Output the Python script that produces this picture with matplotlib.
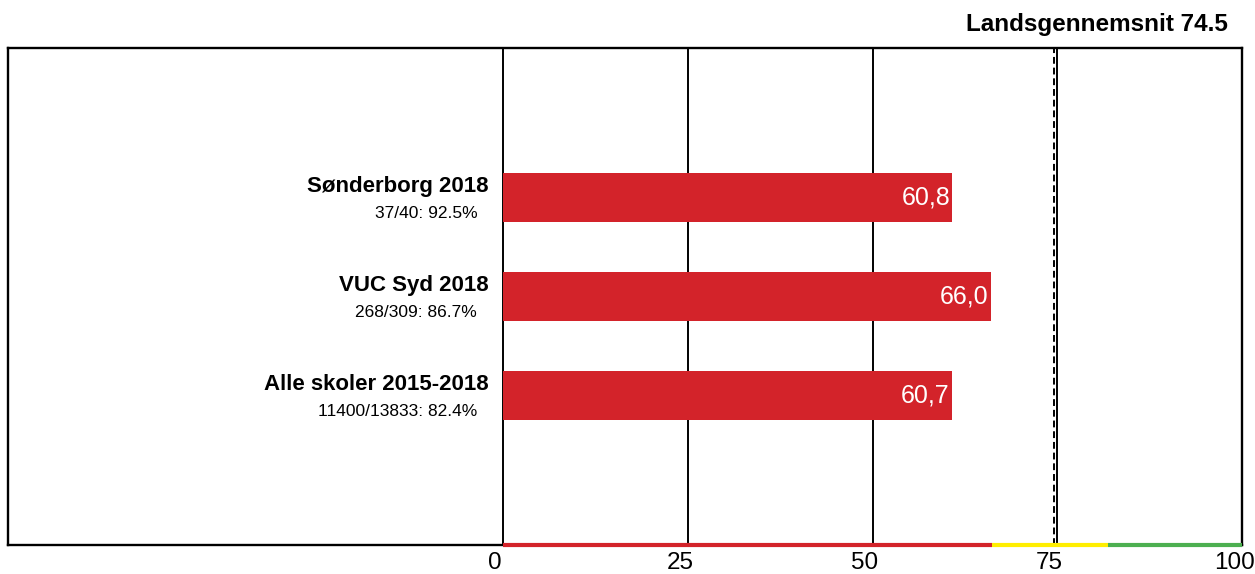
import matplotlib
matplotlib.use("Agg")
import matplotlib.pyplot as plt
import matplotlib.transforms as mtransforms

plt.rcParams['font.family'] = ['Liberation Sans', 'DejaVu Sans']

# Data
categories = ["Sønderborg 2018", "VUC Syd 2018", "Alle skoler 2015-2018"]
subtitles = ["37/40: 92.5%", "268/309: 86.7%", "11400/13833: 82.4%"]
values = [60.8, 66.0, 60.7]
value_labels = ["60,8", "66,0", "60,7"]
national_avg = 74.5
title_text = "Landsgennemsnit 74.5"
xticks = [0, 25, 50, 75, 100]
gridlines = [0, 25, 50, 75]
# Colour band on the bottom axis: (start, end, colour)
band_edges = [0, 66.2, 81.8, 100]
band_colors = ["#D3232A", "#FFEE00", "#4CAF50"]

W, H = 1255, 574
fig = plt.figure(figsize=(W / 100, H / 100), dpi=100)
ax = fig.add_axes([8 / W, (H - 545) / H, (1242 - 8) / W, (545 - 48) / H])

ax.set_xlim(-67, 100)
ax.set_ylim(3.51, -1.51)

# grid lines
for g in gridlines:
    ax.axvline(g, color="black", lw=1.4, zorder=1)
ax.axvline(national_avg, color="black", lw=1.4, ls=(0, (3.5, 2)), zorder=1)

ypos = list(range(len(categories)))
ax.barh(ypos, values, height=0.5, color="#D3232A", zorder=2)

for y, v, lab in zip(ypos, values, value_labels):
    ax.annotate(lab, xy=(v, y), xytext=(-1.5, 0), textcoords="offset points",
                ha="right", va="center", color="white", fontsize=18, zorder=3)

for y, cat, sub in zip(ypos, categories, subtitles):
    ax.text(-2.0, y - 0.11, cat, ha="right", va="center",
            fontsize=16, fontweight="bold", color="black")
    ax.text(-3.5, y + 0.165, sub, ha="right", va="center",
            fontsize=12.5, color="black")

# spines
for s in ax.spines.values():
    s.set_linewidth(1.7)
    s.set_color("black")

# colour band on the bottom spine
trans = mtransforms.blended_transform_factory(ax.transData, ax.transAxes)
for x0, x1, c in zip(band_edges[:-1], band_edges[1:], band_colors):
    ax.plot([x0, x1], [0, 0], color=c, lw=3, transform=trans,
            clip_on=False, zorder=5, solid_capstyle="butt")

ax.set_yticks([])
ax.set_xticks(xticks)
ax.set_xticklabels([str(t) for t in xticks], fontsize=17.5)
ax.tick_params(axis="x", length=0, pad=5)
offset = mtransforms.ScaledTranslation(-8 / 100, 0, fig.dpi_scale_trans)
for lab in ax.get_xticklabels():
    lab.set_transform(lab.get_transform() + offset)

fig.text(1228 / W, 1 - 24 / H, title_text, ha="right", va="center",
         fontsize=17.5, fontweight="bold")

fig.savefig("out.png", dpi=100)
